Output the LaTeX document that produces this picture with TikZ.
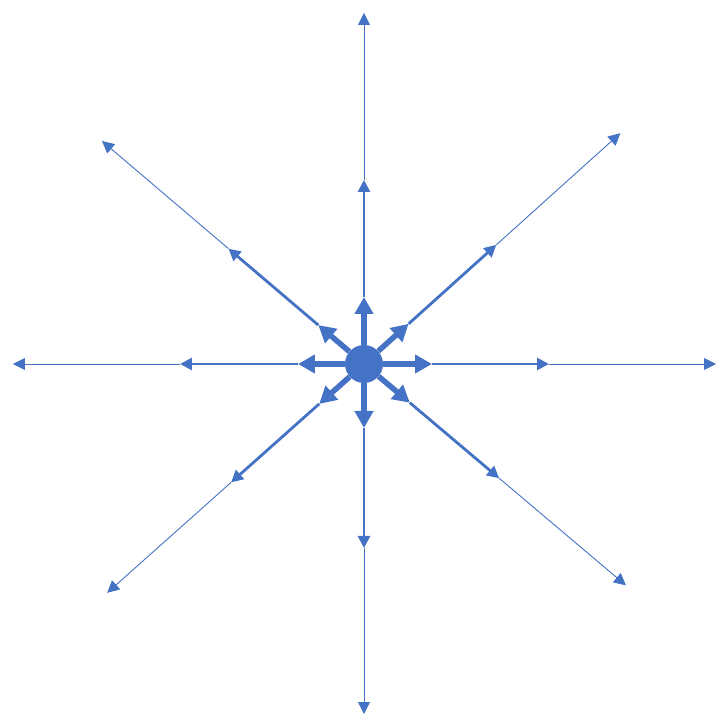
\documentclass[tikz,border=0pt]{standalone}
\usetikzlibrary{arrows.meta}
\definecolor{azul}{HTML}{4472C4}
\tikzset{
  grueso/.style={line width=5.5pt, -{Triangle[length=17pt,width=18pt]}},
  medio/.style={line width=2.8pt, -{Triangle[length=12pt,width=12pt]}},
  fino/.style={line width=0.9pt, -{Triangle[length=12pt,width=12pt]}},
  punto/.style={circle, fill=azul, inner sep=0pt, minimum size=38pt},
}
\begin{document}
\begin{tikzpicture}[x=1pt, y=1pt, azul, line cap=butt, line join=miter]
  \useasboundingbox (-364,-363) rectangle (364,364);
  % el punto central
  \node[punto] (c) at (0,0) {};
  % los ocho rayos: nombre/angulo/radio grueso/radio medio/radio fino
  \foreach \n/\a/\ra/\rb/\rc in {e/0/68/185/352, ne/42/60/178/345, n/90/67/184/351,
      no/139.6/60/178/344, o/180/66/184/351, so/221.7/60/178/344,
      s/270/64/184/350, se/319.8/60/177/343} {
    \coordinate (a\n) at (\a:\ra);
    \coordinate (b\n) at (\a:\rb);
    \coordinate (t\n) at (\a:\rc);
    \draw[grueso] (c) -- (a\n);
    \draw[medio] (a\n) -- (b\n);
    \draw[fino] (b\n) -- (t\n);
  }
\end{tikzpicture}
\end{document}
